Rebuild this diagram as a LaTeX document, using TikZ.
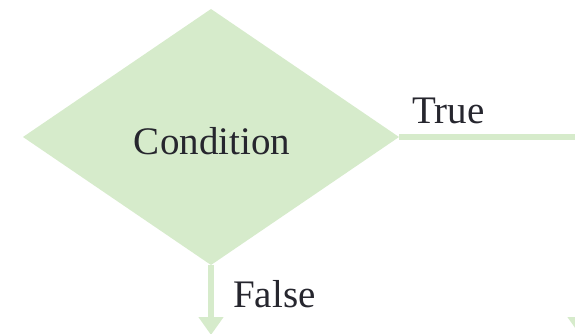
\documentclass[tikz,border=0pt]{standalone}
\usepackage{fontspec}
\setmainfont{Liberation Serif}
\usetikzlibrary{arrows.meta}
\definecolor{flowgreen}{HTML}{D6EBCB}
\definecolor{labelink}{HTML}{26262E}
\begin{document}
\begin{tikzpicture}[x=1pt,y=1pt,
  flowline/.style={draw=flowgreen,line width=6pt,-{Triangle[length=18pt,width=24pt]}},
  labeltext/.style={text=labelink,font=\fontsize{39}{44}\selectfont,inner sep=0pt}]
\useasboundingbox (0,0) rectangle (575,333);
\clip (0,0) rectangle (575,333);
\coordinate (L) at (23,196);
\coordinate (T) at (211,324);
\coordinate (R) at (399,196);
\coordinate (B) at (211,68);
\coordinate (Rcorner) at (580,196);
\coordinate (Rend) at (580,-2);
\coordinate (Bend) at (211,-2);
\fill[flowgreen] (L) -- (T) -- (R) -- (B) -- cycle;
\node[labeltext,anchor=base] (cond) at (212,179) {Condition};
\draw[flowline] (R) -- (Rcorner) -- (Rend);
\draw[flowline] (B) -- (Bend);
\node[labeltext,anchor=base west] (true) at (412,210) {True};
\node[labeltext,anchor=base west] (false) at (233,26) {False};
\end{tikzpicture}
\end{document}
